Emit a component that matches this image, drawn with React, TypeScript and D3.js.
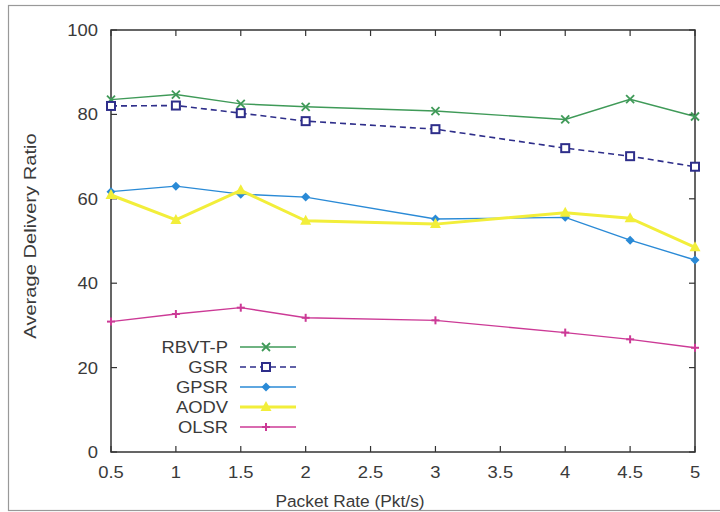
import React from "react";
import * as d3 from "d3";

const packetRates = [0.5, 1, 1.5, 2, 3, 4, 4.5, 5];
const rbvtP = [83.5, 84.7, 82.5, 81.8, 80.8, 78.8, 83.6, 79.5];
const gsr = [82, 82.1, 80.3, 78.4, 76.5, 72, 70.1, 67.6];
const gpsr = [61.7, 63, 61.1, 60.4, 55.2, 55.6, 50.2, 45.5];
const aodv = [60.9, 55, 62, 54.8, 54, 56.7, 55.4, 48.5];
const olsr = [30.9, 32.7, 34.2, 31.8, 31.2, 28.3, 26.7, 24.7];
const xTicks = [0.5, 1, 1.5, 2, 2.5, 3, 3.5, 4, 4.5, 5];
const yTicks = [0, 20, 40, 60, 80, 100];
const seriesNames = ["RBVT-P", "GSR", "GPSR", "AODV", "OLSR"];

const L = 111, R = 695, T = 30, B = 452;
const FONT = "'Liberation Sans', Arial, sans-serif";
const TXT = "#3a3a3a";

type Series = { name: string; values: number[]; color: string; width: number; dash?: string; marker: string };

const series: Series[] = [
  { name: seriesNames[0], values: rbvtP, color: "#3f9a58", width: 1.4, marker: "x" },
  { name: seriesNames[1], values: gsr, color: "#2e2e8a", width: 1.6, dash: "6,4", marker: "square" },
  { name: seriesNames[2], values: gpsr, color: "#2a8ad6", width: 1.4, marker: "diamond" },
  { name: seriesNames[3], values: aodv, color: "#f2ee3a", width: 3, marker: "triangle" },
  { name: seriesNames[4], values: olsr, color: "#cc3a96", width: 1.4, marker: "plus" },
];

function Marker({ type, x, y, color }: { type: string; x: number; y: number; color: string }) {
  switch (type) {
    case "x":
      return (
        <g stroke={color} strokeWidth={1.8}>
          <line x1={x - 4} y1={y - 4} x2={x + 4} y2={y + 4} />
          <line x1={x - 4} y1={y + 4} x2={x + 4} y2={y - 4} />
        </g>
      );
    case "square":
      return <rect x={x - 4} y={y - 4} width={8} height={8} fill="#fff" stroke={color} strokeWidth={2} />;
    case "diamond":
      return <path d={`M${x},${y - 4.5}L${x + 4.5},${y}L${x},${y + 4.5}L${x - 4.5},${y}Z`} fill={color} />;
    case "triangle":
      return <path d={`M${x},${y - 6}L${x + 5.5},${y + 4}L${x - 5.5},${y + 4}Z`} fill={color} />;
    case "plus":
      return (
        <g stroke={color} strokeWidth={2}>
          <line x1={x - 4} y1={y} x2={x + 4} y2={y} />
          <line x1={x} y1={y - 4} x2={x} y2={y + 4} />
        </g>
      );
  }
  return null;
}

function T2({ x, y, children, anchor = "middle", sx = 1.15, size = 16, rotate = 0 }: any) {
  return (
    <text
      transform={`translate(${x},${y}) rotate(${rotate}) scale(${sx},1)`}
      textAnchor={anchor}
      fontFamily={FONT}
      fontSize={size}
      fill={TXT}
    >
      {children}
    </text>
  );
}

export default function App() {
  const x = d3.scaleLinear().domain([0.5, 5]).range([L, R]);
  const y = d3.scaleLinear().domain([0, 100]).range([B, T]);
  const line = d3
    .line<number>()
    .x((_, i) => x(packetRates[i]))
    .y((d) => y(d));

  const legendY = [347, 367, 387, 407, 427];

  return (
    <svg width={720} height={512} style={{ position: "absolute", left: 0, top: 0, background: "#fff" }}>
      <rect x={0} y={0} width={720} height={512} fill="#fff" />
      <rect x={8.5} y={5.5} width={720} height={505} fill="none" stroke="#999" strokeWidth={1.2} />

      {/* ticks */}
      {xTicks.map((t) => (
        <g key={"xt" + t} stroke="#333" strokeWidth={1.2}>
          <line x1={x(t)} x2={x(t)} y1={B} y2={B - 6} />
          <line x1={x(t)} x2={x(t)} y1={T} y2={T + 6} />
        </g>
      ))}
      {yTicks.map((t) => (
        <g key={"yt" + t} stroke="#333" strokeWidth={1.2}>
          <line x1={L} x2={L + 6} y1={y(t)} y2={y(t)} />
          <line x1={R} x2={R - 6} y1={y(t)} y2={y(t)} />
        </g>
      ))}
      <rect x={L} y={T} width={R - L} height={B - T} fill="none" stroke="#333" strokeWidth={1.5} />

      {/* tick labels */}
      {xTicks.map((t) => (
        <T2 key={"xl" + t} x={x(t)} y={478}>
          {String(t)}
        </T2>
      ))}
      {yTicks.map((t) => (
        <T2 key={"yl" + t} x={98} y={y(t) + 6} anchor="end">
          {String(t)}
        </T2>
      ))}

      {/* axis titles */}
      <T2 x={350} y={507} size={16.5} sx={1.05}>
        Packet Rate (Pkt/s)
      </T2>
      <T2 x={36} y={236} size={16.5} sx={1.22} rotate={-90}>
        Average Delivery Ratio
      </T2>

      {/* series */}
      {series.map((s) => (
        <g key={s.name}>
          <path d={line(s.values) || ""} fill="none" stroke={s.color} strokeWidth={s.width} strokeDasharray={s.dash} />
          {s.values.map((v, i) => (
            <Marker key={i} type={s.marker} x={x(packetRates[i])} y={y(v)} color={s.color} />
          ))}
        </g>
      ))}

      {/* legend */}
      {series.map((s, i) => (
        <g key={"lg" + s.name}>
          <T2 x={228} y={legendY[i] + 6} anchor="end" size={16}>
            {s.name}
          </T2>
          <line x1={240} x2={296} y1={legendY[i]} y2={legendY[i]} stroke={s.color} strokeWidth={s.width} strokeDasharray={s.dash} />
          <Marker type={s.marker} x={266} y={legendY[i]} color={s.color} />
        </g>
      ))}
    </svg>
  );
}
